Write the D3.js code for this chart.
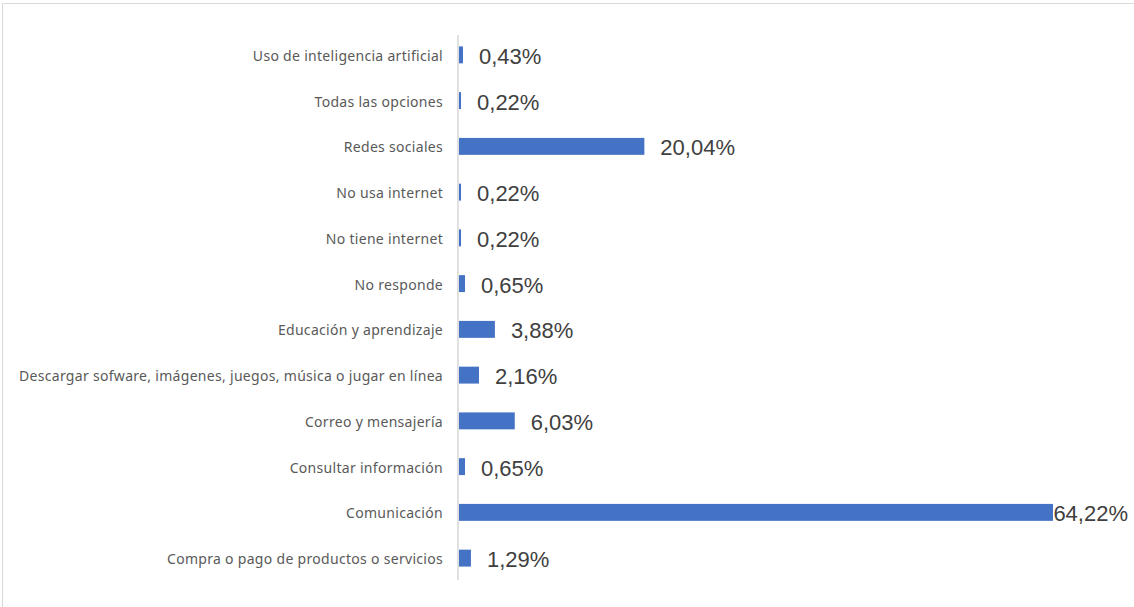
<!DOCTYPE html>
<html>
<head>
<meta charset="utf-8">
<script src="https://cdn.jsdelivr.net/npm/d3@7"></script>
<style>
  html, body { margin: 0; padding: 0; background: #fff; }
  svg { display: block; }
</style>
</head>
<body>
<svg id="chart" width="1134" height="607"></svg>
<script>
// Usos de internet (porcentaje de respuestas)
const categories = [
  "Uso de inteligencia artificial",
  "Todas las opciones",
  "Redes sociales",
  "No usa internet",
  "No tiene internet",
  "No responde",
  "Educación y aprendizaje",
  "Descargar sofware, imágenes, juegos, música o jugar en línea",
  "Correo y mensajería",
  "Consultar información",
  "Comunicación",
  "Compra o pago de productos o servicios"
];
const values = [0.43, 0.22, 20.04, 0.22, 0.22, 0.65, 3.88, 2.16, 6.03, 0.65, 64.22, 1.29];

(function () {
  const W = 1134, H = 607;
  const svg = d3.select("#chart");

  // chart frame
  svg.append("rect")
    .attr("x", 2.5).attr("y", 3.5)
    .attr("width", W + 10).attr("height", H + 10)
    .attr("fill", "#fff")
    .attr("stroke", "#d9d9d9").attr("stroke-width", 1);

  const plotL = 459, plotR = 1053, plotT = 32, plotB = 581;

  const x = d3.scaleLinear().domain([0, 64.22]).range([plotL, plotR]);
  const y = d3.scaleBand().domain(categories).range([plotT, plotB])
    .paddingInner(0.63).paddingOuter(0.315);

  const data = categories.map((c, i) => ({ c, v: values[i] }));

  // bars
  svg.append("g").selectAll("rect").data(data).join("rect")
    .attr("x", x(0))
    .attr("y", d => y(d.c))
    .attr("width", d => x(d.v) - x(0))
    .attr("height", y.bandwidth())
    .attr("fill", "#4472c4");

  // category axis
  const yAxis = d3.axisLeft(y).tickSize(0).tickPadding(15);
  const ag = svg.append("g").attr("transform", `translate(${plotL - 1},0)`).call(yAxis);
  ag.select(".domain").attr("stroke", "#d9d9d9").attr("stroke-width", 1.6)
    .attr("d", `M0,${plotT + 3}V${plotB - 1}`);
  ag.selectAll(".tick text")
    .attr("fill", "#595959")
    .attr("dy", "0.42em")
    .style("font-family", "'Noto Sans', sans-serif")
    .style("font-size", "14px")
    .style("letter-spacing", "0.3px");

  // value labels
  const fmt = v => v.toFixed(2).replace(".", ",") + "%";
  const labels = svg.append("g").selectAll("text").data(data).join("text")
    .attr("y", d => y(d.c) + y.bandwidth() / 2 + 1)
    .attr("dy", "0.36em")
    .attr("fill", "#404040")
    .style("font-family", "'Liberation Sans', Arial, sans-serif")
    .style("font-size", "22px")
    .text(d => fmt(d.v));
  labels.each(function (d) {
    const w = this.getComputedTextLength();
    let px = x(d.v) + 16;
    if (px + w > W - 6) px = W - 6 - w;
    d3.select(this).attr("x", px);
  });
})();
</script>
</body>
</html>
